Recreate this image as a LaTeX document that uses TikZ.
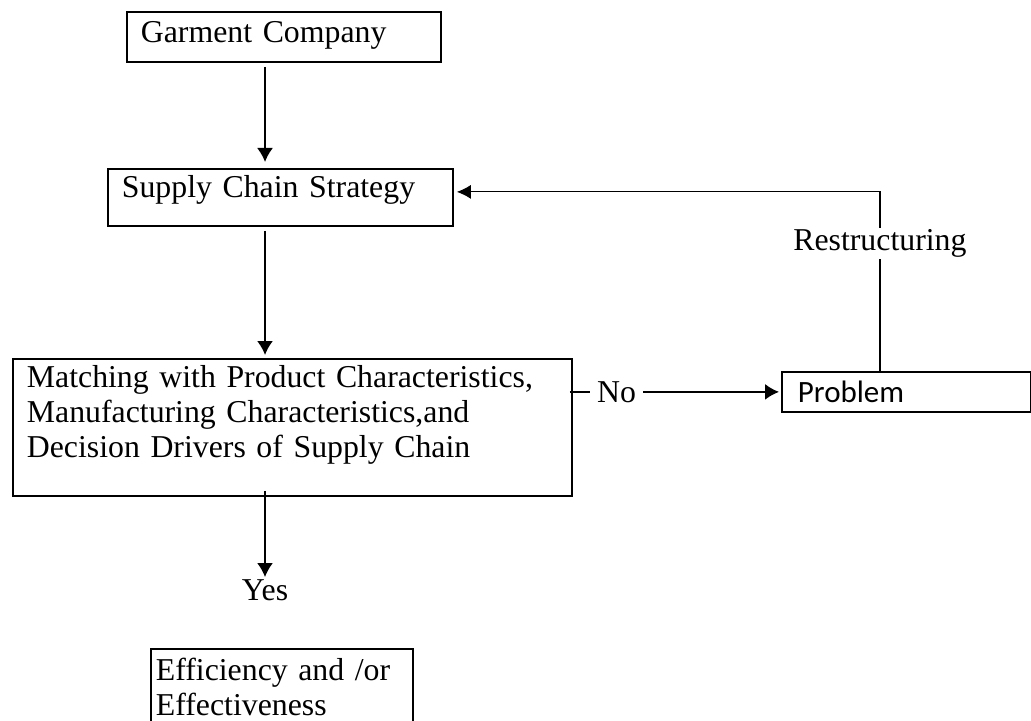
\documentclass[tikz,border=0pt]{standalone}
\usepackage{fontspec}
\setmainfont{Liberation Serif}
\newfontfamily\probfont{Carlito}
\usetikzlibrary{arrows.meta}
\begin{document}
\begin{tikzpicture}[x=0.5pt, y=-0.5pt,
  font=\fontsize{15.9}{17.5}\selectfont,
  box/.style={draw, line width=0.9pt, anchor=north west, align=left, inner ysep=0pt, inner xsep=7pt},
  arr/.style={-{Latex[length=7pt, width=8pt]}, line width=0.9pt}]
\useasboundingbox (0,0) rectangle (1031,721);
\clip (0,0) rectangle (1031,721);
% boxes
\node[box, text width=143pt, text height=15.5pt, text depth=9.5pt] (garm) at (126,11) {Garment Company};
\node[box, text width=158.5pt, text height=14.5pt, text depth=14pt] (sup) at (107,168) {Supply Chain Strategy};
\node[box, text width=265.5pt, text height=14.5pt, text depth=54pt] (match) at (12,358)
  {Matching with Product Characteristics,\\ Manufacturing Characteristics,and\\ Decision Drivers of Supply Chain};
\node[box, inner xsep=8pt, text width=108.5pt, text height=15.5pt, text depth=4.5pt, font=\probfont\fontsize{15.5}{17.5}\selectfont] (prob) at (781,371) {Problem};
\node[box, inner xsep=2.5pt, text width=126pt, text height=16pt, text depth=30pt] (eff) at (150,648)
  {Efficiency and /or\\ Effectiveness};
\node[inner sep=1pt] (yes) at (265,590) {Yes};
% connectors
\draw[arr, shorten <=2pt, shorten >=3pt] (garm.south -| yes) -- (sup.north -| yes);
\draw[arr, shorten <=2pt, shorten >=1.5pt] (sup.south -| yes) -- (match.north -| yes);
\draw[arr, shorten <=-3pt] (match.south -| yes) -- (yes.north);
\draw[arr, shorten <=-1.5pt, shorten >=1pt] (match.east |- prob.west) -- node[pos=0.21, fill=white, inner ysep=1pt]{No} (prob.west);
\draw[-{Latex[length=7pt, width=7pt]}, line width=0.6pt, shorten >=1.5pt] ([xshift=-13.25pt]prob.north) |- node[pos=0.356, fill=white, inner ysep=1pt, inner xsep=0pt]{Restructuring} ([yshift=2.75pt]sup.east);
\end{tikzpicture}
\end{document}
